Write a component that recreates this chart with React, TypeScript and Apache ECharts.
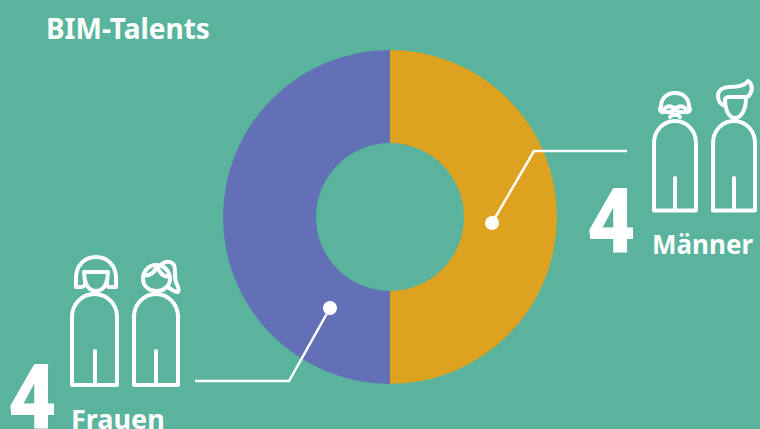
import React, { useEffect, useRef } from "react";
import * as echarts from "echarts";

const categories = ["Männer", "Frauen"];
const values = [4, 4];
const sliceColors = ["#DDA21F", "#6270B5"];
const title = "BIM-Talents";

const BACKGROUND = "#59B39D";
const TEXT_FONT = "'Noto Sans', Roboto, sans-serif";
const NUMBER_FONT = "Roboto, 'Noto Sans', sans-serif";

// Outline figures, in page coordinates
const ICONS: Record<string, string> = {
  manBody1: "M654 210.5V143C654 131 663 121 675 121C687 121 696 131 696 143V210.5ZM675 210V178",
  manBody2: "M713 210.5V143C713 131 722 121 734 121C746 121 755 131 755 143V210.5ZM734 210V178",
  manHead1:
    "M661 107C661 98 667 93 675 93C683 93 689 98 689 107C691 109 690 111 688 112C686 113 686 111 685 108C680 104 678 108 675 108C672 108 670 104 665 108C664 111 664 113 662 112C660 111 659 109 661 107ZM666 112C670 113 672 111 675 110C678 111 680 113 684 112M670 117C672 114 678 114 680 117",
  manHead2:
    "M725 106C721 105 718 101 718 96C718 90 723 87 729 87C737 87 745 86 748 81C752 83 753 90 750 94C749 97 747 97 745 97H729C727 97 725 98 725 100ZM725 99C725 110 729 118 735 118C741 118 746 110 746 98",
  womanBody1: "M72 385V317C72 304 82 294 94.5 294C107 294 117 304 117 317V385ZM95 385V351",
  womanBody2: "M134 385V317C134 304 144 294 156 294C168 294 178 304 178 317V385ZM156 385V351",
  womanHead1:
    "M82 287H76C76 284 76 282 76 278C76 265 85 257 96 257C107 257 116 265 116 278C116 282 116 284 116 287H109C107 287 107 285 107 283C107 278 108 274 108 272H84C84 274 85 278 85 283C85 285 84 287 82 287ZM85 280C86 286 90 291 96 291C102 291 106 286 107 280",
  womanHead2:
    "M143 279C143 271 149 265 156 265C164 265 170 271 170 279C170 286 164 291 156 291C149 291 143 286 143 279ZM143 276C150 276 155 272 157 266C159 272 163 277 169 277M162 264C165 261 172 261 174 265C176 270 174 277 176 282C177 285 180 289 178 292C174 292 171 289 168 287",
};
Object.entries(ICONS).forEach(([name, d]) => {
  echarts.graphic.registerShape(name, echarts.graphic.extendPath(d, {}));
});

const outline = { stroke: "#fff", fill: "none", lineWidth: 4, lineJoin: "round", lineCap: "round" };
const leader = { stroke: "#fff", fill: "none", lineWidth: 2.5 };

// Text is placed by its baseline; the font's ascent is taken off for a top-aligned box
const label = (text: string, x: number, baseline: number, fontSize: number, font: string, weight = 700, scaleX = 1) => ({
  type: "text",
  x,
  y: baseline - 0.853 * fontSize,
  z: 10,
  scaleX,
  silent: true,
  style: {
    text,
    fill: "#fff",
    font: `${weight} ${fontSize}px ${font}`,
    verticalAlign: "top",
  },
});

export default function App() {
  const ref = useRef<HTMLDivElement>(null);

  useEffect(() => {
    document.body.style.margin = "0";
    const chart = echarts.init(ref.current!, null, { renderer: "svg" });
    chart.setOption({
      animation: false,
      backgroundColor: BACKGROUND,
      series: [
        {
          type: "pie",
          center: [390, 217],
          radius: [74, 167],
          startAngle: 90,
          clockwise: true,
          silent: true,
          z: 1,
          label: { show: false },
          labelLine: { show: false },
          data: categories.map((name, i) => ({
            name,
            value: values[i],
            itemStyle: { color: sliceColors[i] },
          })),
        },
      ],
      graphic: {
        z: 10,
        elements: [
          label(title, 46, 38, 28, TEXT_FONT),
          ...Object.keys(ICONS).map((type) => ({ type, x: 0, y: 0, z: 10, silent: true, style: outline })),
          { type: "polyline", z: 10, silent: true, shape: { points: [[492, 223], [534, 151], [627, 151]] }, style: leader },
          { type: "polyline", z: 10, silent: true, shape: { points: [[330, 308], [289, 381], [195, 381]] }, style: leader },
          { type: "circle", z: 10, silent: true, shape: { cx: 492, cy: 223, r: 7 }, style: { fill: "#fff" } },
          { type: "circle", z: 10, silent: true, shape: { cx: 330, cy: 308, r: 7 }, style: { fill: "#fff" } },
          label(String(values[0]), 587, 254, 91, NUMBER_FONT, 900, 0.92),
          label(categories[0], 652, 253, 26, TEXT_FONT),
          label(String(values[1]), 8, 430, 91, NUMBER_FONT, 900, 0.92),
          label(categories[1], 71, 428, 27, TEXT_FONT),
        ],
      },
    });
    return () => chart.dispose();
  }, []);

  return <div ref={ref} style={{ position: "absolute", left: 0, top: 0, width: 760, height: 429 }} />;
}
